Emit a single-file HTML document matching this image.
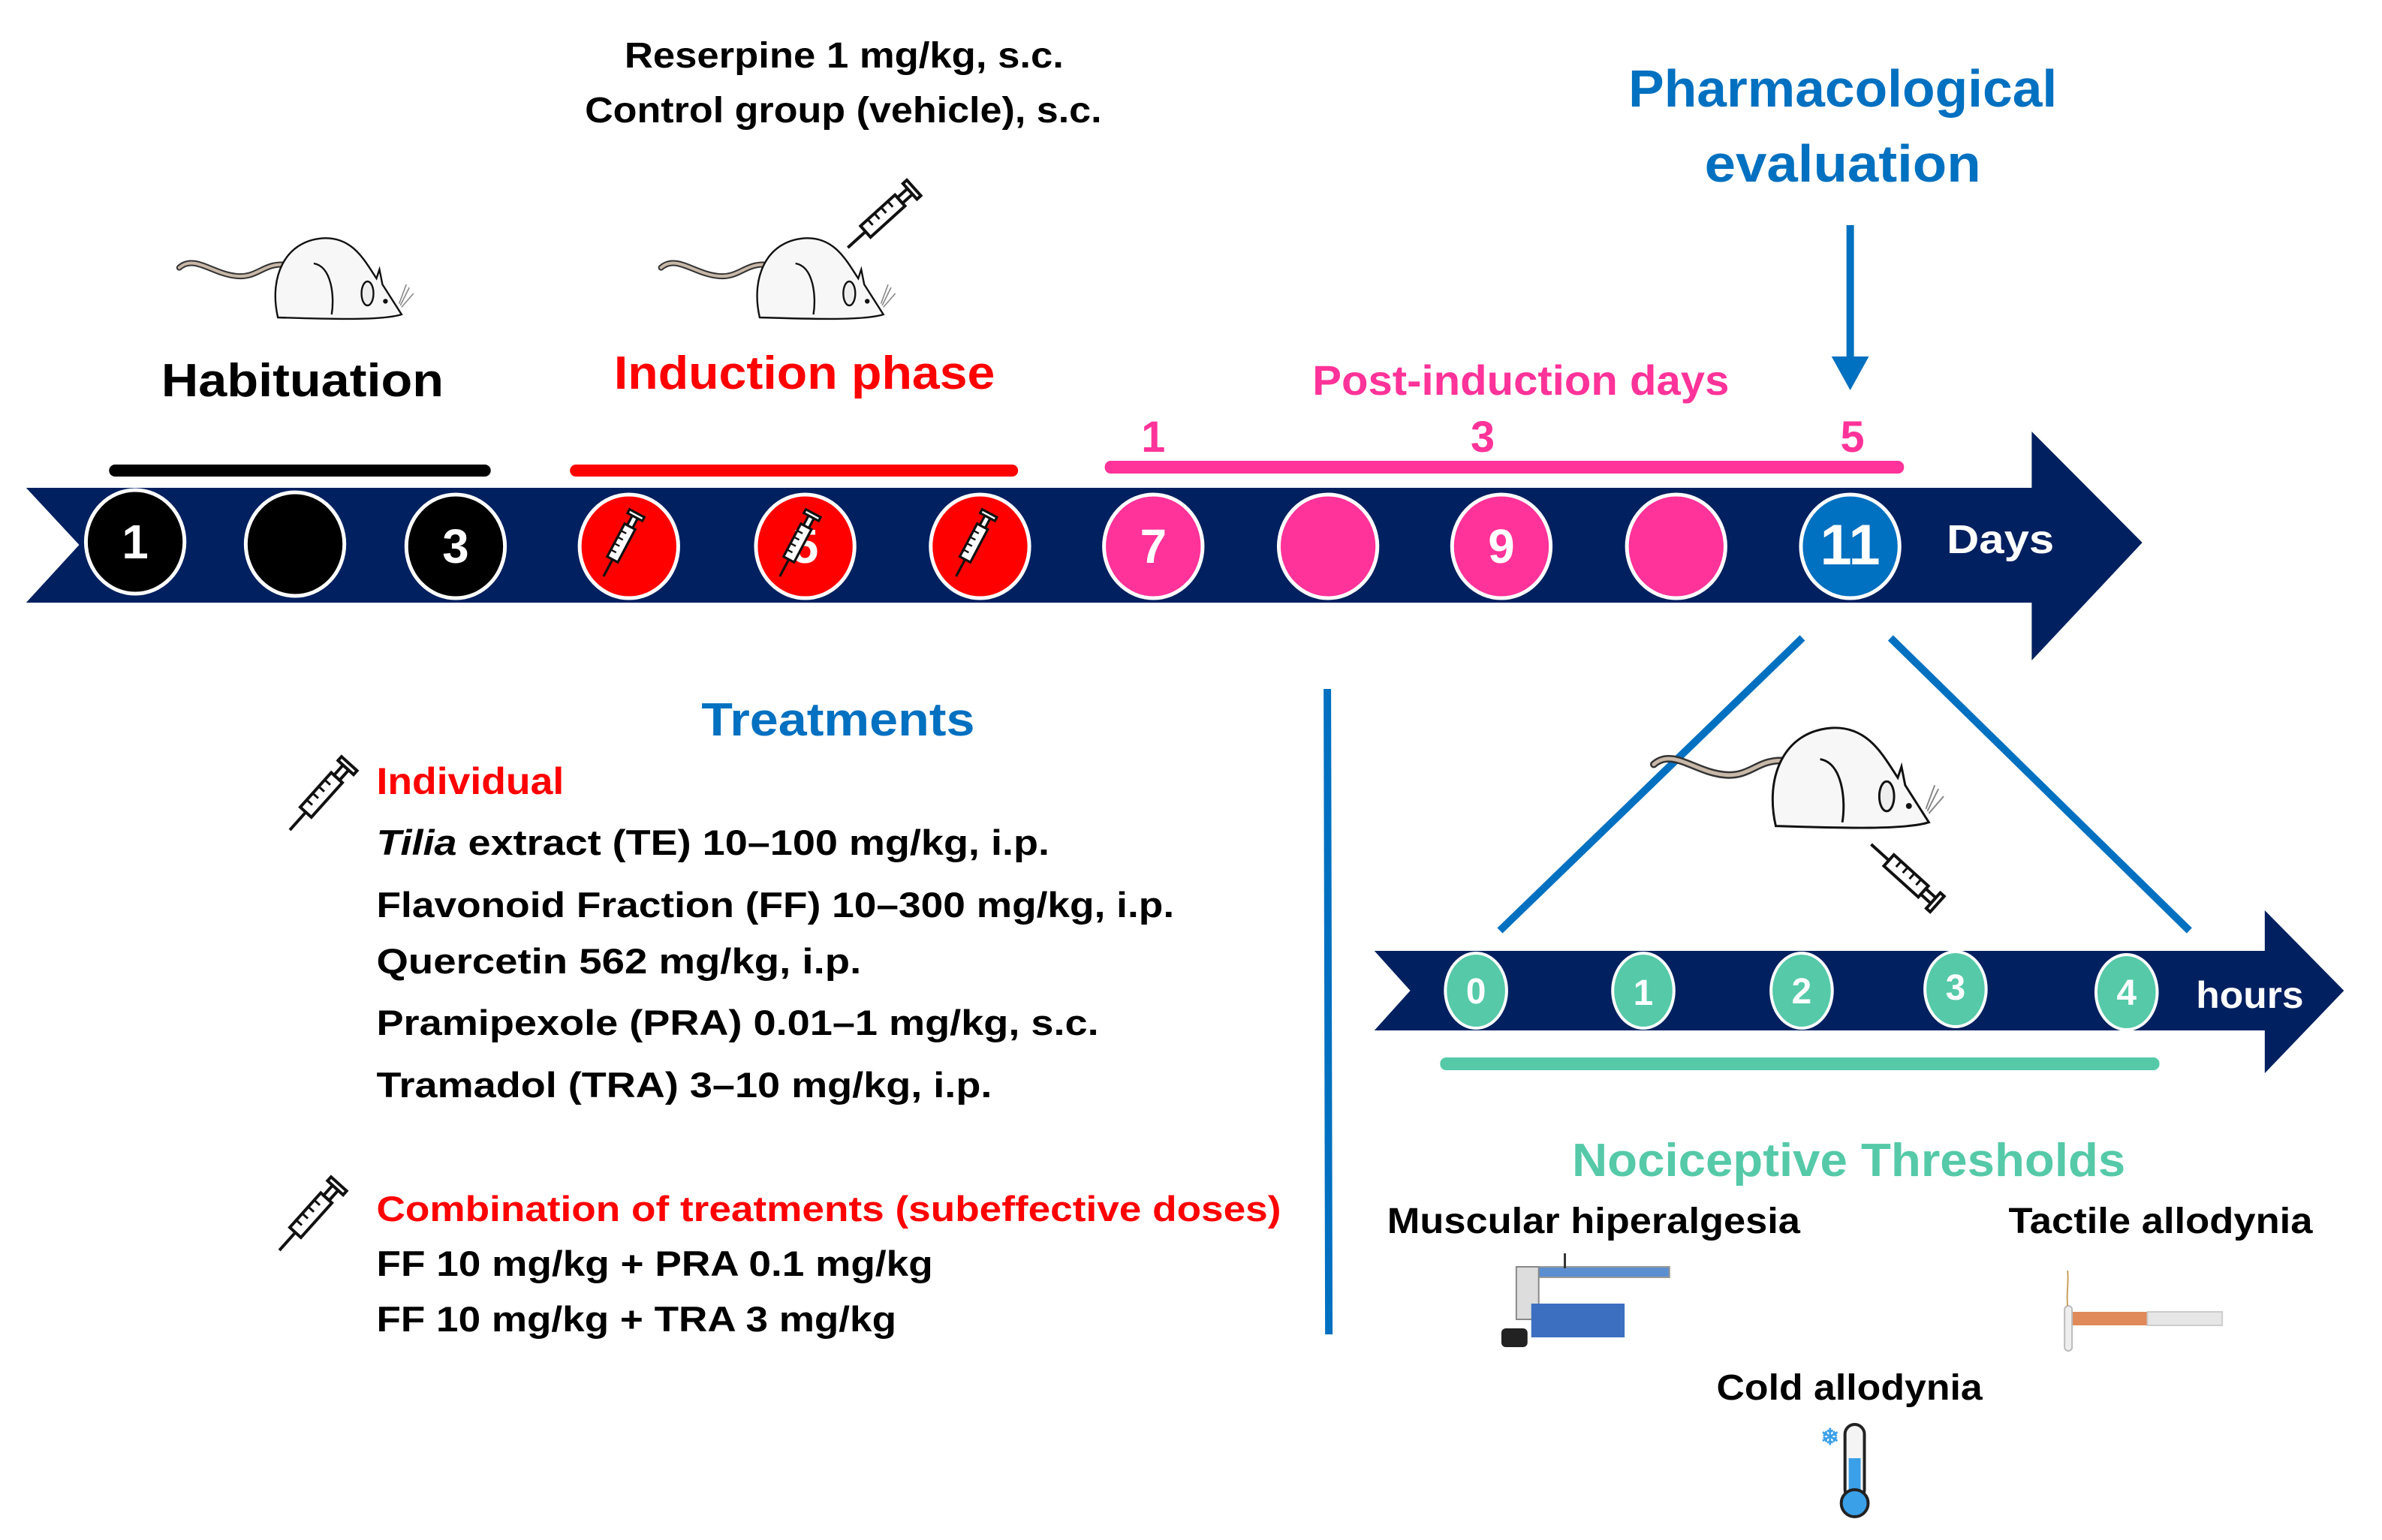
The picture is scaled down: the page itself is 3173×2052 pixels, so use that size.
<!DOCTYPE html>
<html><head><meta charset="utf-8"><style>html,body{margin:0;padding:0;background:#fff}svg{display:block}text{font-family:"Liberation Sans",sans-serif;font-weight:bold}</style></head>
<body>
<svg width="3173" height="2052" viewBox="0 0 3173 2052" xmlns="http://www.w3.org/2000/svg">
<defs>
<g id="rat">
<path d="M0,52 C25,30 55,62 95,66 C130,70 140,45 175,47" fill="none" stroke="#333" stroke-width="10" stroke-linecap="round"/>
<path d="M0,52 C25,30 55,62 95,66 C130,70 140,45 175,47" fill="none" stroke="#c8b8a8" stroke-width="5" stroke-linecap="round"/>
<path d="M165,135 C150,70 175,8 240,3 C290,0 310,40 330,70 L335,55 L340,80 L372,130 C340,140 260,138 165,135 Z" fill="#f7f7f7" stroke="#111" stroke-width="3"/>
<path d="M225,45 C255,50 260,100 255,130" fill="none" stroke="#111" stroke-width="3"/>
<ellipse cx="315" cy="95" rx="10" ry="20" fill="#eee" stroke="#111" stroke-width="3"/>
<circle cx="345" cy="108" r="4" fill="#111"/>
<path d="M370,115 L385,85 M372,118 L392,95 M368,112 L380,80" stroke="#888" stroke-width="2"/>
</g>
<g id="syr">
<line x1="0" y1="0" x2="32" y2="0" stroke="#111" stroke-width="4"/>
<rect x="32" y="-10" width="62" height="20" fill="#fff" stroke="#111" stroke-width="4"/>
<path d="M45,-10 V0 M57,-10 V0 M69,-10 V0 M81,-10 V0" stroke="#111" stroke-width="3"/>
<rect x="94" y="-5" width="18" height="10" fill="#fff" stroke="#111" stroke-width="4"/>
<rect x="112" y="-14" width="7" height="28" fill="#fff" stroke="#111" stroke-width="4"/>
</g>
</defs>
<g transform="scale(0.995,1)">
<text x="1130" y="90" font-size="48" text-anchor="middle" textLength="588" lengthAdjust="spacingAndGlyphs">Reserpine 1 mg/kg, s.c.</text>
<text x="1129" y="163" font-size="48" text-anchor="middle" textLength="692" lengthAdjust="spacingAndGlyphs">Control group (vehicle), s.c.</text>
<text x="2467" y="142" font-size="70" fill="#0070c0" text-anchor="middle" textLength="574" lengthAdjust="spacingAndGlyphs">Pharmacological</text>
<text x="2467" y="242" font-size="70" fill="#0070c0" text-anchor="middle" textLength="370" lengthAdjust="spacingAndGlyphs">evaluation</text>
<line x1="2477" y1="300" x2="2477" y2="480" stroke="#0070c0" stroke-width="10"/>
<polygon points="2452,475 2502,475 2477,520" fill="#0070c0"/>

<use href="#rat" transform="translate(240,315) scale(0.8)"/>
<use href="#rat" transform="translate(885,315) scale(0.8)"/>
<use href="#syr" transform="translate(1135,330) rotate(-42)"/>

<text x="405" y="528" font-size="62" text-anchor="middle" textLength="378" lengthAdjust="spacingAndGlyphs">Habituation</text>
<text x="1077" y="518" font-size="62" fill="#ff0000" text-anchor="middle" textLength="510" lengthAdjust="spacingAndGlyphs">Induction phase</text>
<text x="2036" y="526" font-size="56" fill="#ff3399" text-anchor="middle" textLength="558" lengthAdjust="spacingAndGlyphs">Post-induction days</text>
<text x="1544" y="602" font-size="58" fill="#ff3399" text-anchor="middle">1</text>
<text x="1985" y="602" font-size="58" fill="#ff3399" text-anchor="middle">3</text>
<text x="2480" y="602" font-size="58" fill="#ff3399" text-anchor="middle">5</text>

<rect x="146" y="619" width="511" height="16" rx="8" fill="#000"/>
<rect x="763" y="619" width="600" height="16" rx="8" fill="#ff0000"/>
<rect x="1479" y="614" width="1070" height="17" rx="8" fill="#ff3399"/>

<polygon points="35,650 2720,650 2720,575 2868,723 2720,880 2720,803 35,803 106,726" fill="#002060"/>
<g stroke="#fff" stroke-width="5">
<ellipse cx="181" cy="722" rx="66" ry="69" fill="#000"/>
<ellipse cx="395" cy="725" rx="66" ry="69" fill="#000"/>
<ellipse cx="610" cy="728" rx="66" ry="69" fill="#000"/>
<ellipse cx="842" cy="728" rx="66" ry="69" fill="#ff0000"/>
<ellipse cx="1078" cy="728" rx="66" ry="69" fill="#ff0000"/>
<ellipse cx="1312" cy="728" rx="66" ry="69" fill="#ff0000"/>
<ellipse cx="1544" cy="728" rx="66" ry="69" fill="#ff3399"/>
<ellipse cx="1778" cy="728" rx="66" ry="69" fill="#ff3399"/>
<ellipse cx="2010" cy="728" rx="66" ry="69" fill="#ff3399"/>
<ellipse cx="2244" cy="728" rx="66" ry="69" fill="#ff3399"/>
<ellipse cx="2477" cy="728" rx="66" ry="69" fill="#0070c0"/>
</g>
<g fill="#fff" font-size="64" text-anchor="middle">
<text x="181" y="744">1</text>
<text x="610" y="750">3</text>
<text x="1078" y="750">5</text>
<text x="1544" y="750">7</text>
<text x="2010" y="750">9</text>
<text x="2477" y="752" font-size="76">11</text>
</g>
<g transform="scale(0.8)">
<use href="#syr" transform="translate(1010,960) rotate(-62)"/>
<use href="#syr" transform="translate(1305,960) rotate(-62)"/>
<use href="#syr" transform="translate(1600,960) rotate(-62)"/>
</g>
<text x="2606" y="737" font-size="54" fill="#fff" textLength="144" lengthAdjust="spacingAndGlyphs">Days</text>

<line x1="2413" y1="850" x2="2008" y2="1240" stroke="#0070c0" stroke-width="10"/>
<line x1="2531" y1="850" x2="2931" y2="1240" stroke="#0070c0" stroke-width="10"/>
<line x1="1777" y1="918" x2="1779" y2="1778" stroke="#0070c0" stroke-width="10"/>
<use href="#rat" transform="translate(2214,967) scale(0.99)"/>
<use href="#syr" transform="translate(2505,1125) rotate(42)"/>

<text x="1122" y="980" font-size="62" fill="#0070c0" text-anchor="middle" textLength="366" lengthAdjust="spacingAndGlyphs">Treatments</text>
<use href="#syr" transform="translate(388,1106) rotate(-48)"/>
<use href="#syr" transform="translate(374,1666) rotate(-48)"/>
<text x="504" y="1058" font-size="50" fill="#ff0000" textLength="251" lengthAdjust="spacingAndGlyphs">Individual</text>
<g font-size="47">
<text x="504" y="1139" textLength="901" lengthAdjust="spacingAndGlyphs"><tspan font-style="italic">Tilia</tspan> extract (TE) 10–100 mg/kg, i.p.</text>
<text x="504" y="1222" textLength="1068" lengthAdjust="spacingAndGlyphs">Flavonoid Fraction (FF) 10–300 mg/kg, i.p.</text>
<text x="504" y="1297" textLength="649" lengthAdjust="spacingAndGlyphs">Quercetin 562 mg/kg, i.p.</text>
<text x="504" y="1379" textLength="967" lengthAdjust="spacingAndGlyphs">Pramipexole (PRA) 0.01–1 mg/kg,  s.c.</text>
<text x="504" y="1462" textLength="824" lengthAdjust="spacingAndGlyphs">Tramadol (TRA) 3–10 mg/kg, i.p.</text>
<text x="504" y="1627" fill="#ff0000" textLength="1211" lengthAdjust="spacingAndGlyphs">Combination of treatments (subeffective doses)</text>
<text x="504" y="1700" textLength="745" lengthAdjust="spacingAndGlyphs">FF 10 mg/kg + PRA 0.1 mg/kg</text>
<text x="504" y="1774" textLength="696" lengthAdjust="spacingAndGlyphs">FF 10 mg/kg + TRA 3 mg/kg</text>
</g>

<polygon points="1840,1267 3032,1267 3032,1213 3138,1320 3032,1430 3032,1373 1840,1373 1888,1320" fill="#002060"/>
<g stroke="#fff" stroke-width="4" fill="#55c9a8">
<ellipse cx="1976" cy="1320" rx="41" ry="50"/>
<ellipse cx="2200" cy="1320" rx="41" ry="50"/>
<ellipse cx="2412" cy="1320" rx="41" ry="50"/>
<ellipse cx="2618" cy="1318" rx="41" ry="50"/>
<ellipse cx="2847" cy="1322" rx="41" ry="50"/>
</g>
<g fill="#fff" font-size="48" text-anchor="middle">
<text x="1976" y="1337">0</text><text x="2200" y="1339">1</text><text x="2412" y="1337">2</text><text x="2618" y="1332">3</text><text x="2847" y="1339">4</text>
</g>
<text x="2940" y="1343" font-size="50" fill="#fff" textLength="144" lengthAdjust="spacingAndGlyphs">hours</text>
<rect x="1928" y="1409" width="963" height="17" rx="8" fill="#55c9a8"/>

<text x="2475" y="1567" font-size="62" fill="#55c9a8" text-anchor="middle" textLength="741" lengthAdjust="spacingAndGlyphs">Nociceptive Thresholds</text>
<text x="1857" y="1643" font-size="48" textLength="553" lengthAdjust="spacingAndGlyphs">Muscular hiperalgesia</text>
<text x="2689" y="1643" font-size="48" textLength="407" lengthAdjust="spacingAndGlyphs">Tactile allodynia</text>
<text x="2298" y="1865" font-size="48" textLength="356" lengthAdjust="spacingAndGlyphs">Cold allodynia</text>

<rect x="2045" y="1688" width="190" height="14" fill="#5b8fd0" stroke="#999" stroke-width="2"/>
<rect x="2030" y="1688" width="30" height="70" fill="#ddd" stroke="#888" stroke-width="2"/>
<rect x="2050" y="1737" width="125" height="45" fill="#3d6fc0"/>
<rect x="2010" y="1770" width="35" height="25" rx="6" fill="#222"/>
<line x1="2095" y1="1670" x2="2095" y2="1690" stroke="#333" stroke-width="3"/>
<rect x="2770" y="1748" width="105" height="18" fill="#e08a5a"/>
<rect x="2875" y="1748" width="100" height="18" fill="#e6e6e6" stroke="#ccc" stroke-width="2"/>
<rect x="2764" y="1740" width="10" height="60" rx="5" fill="#eee" stroke="#bbb" stroke-width="2"/>
<path d="M2768,1740 C2766,1720 2770,1710 2768,1693" stroke="#c9a060" stroke-width="2" fill="none"/>
<rect x="2470" y="1898" width="26" height="100" rx="13" fill="#f4f4f4" stroke="#222" stroke-width="4"/>
<rect x="2475" y="1943" width="16" height="60" fill="#3aa0e8"/>
<circle cx="2483" cy="2003" r="18" fill="#3aa0e8" stroke="#222" stroke-width="4"/>
<text x="2450" y="1925" font-size="30" fill="#3aa0e8" text-anchor="middle">❄</text>
</g>
</svg>
</body></html>
